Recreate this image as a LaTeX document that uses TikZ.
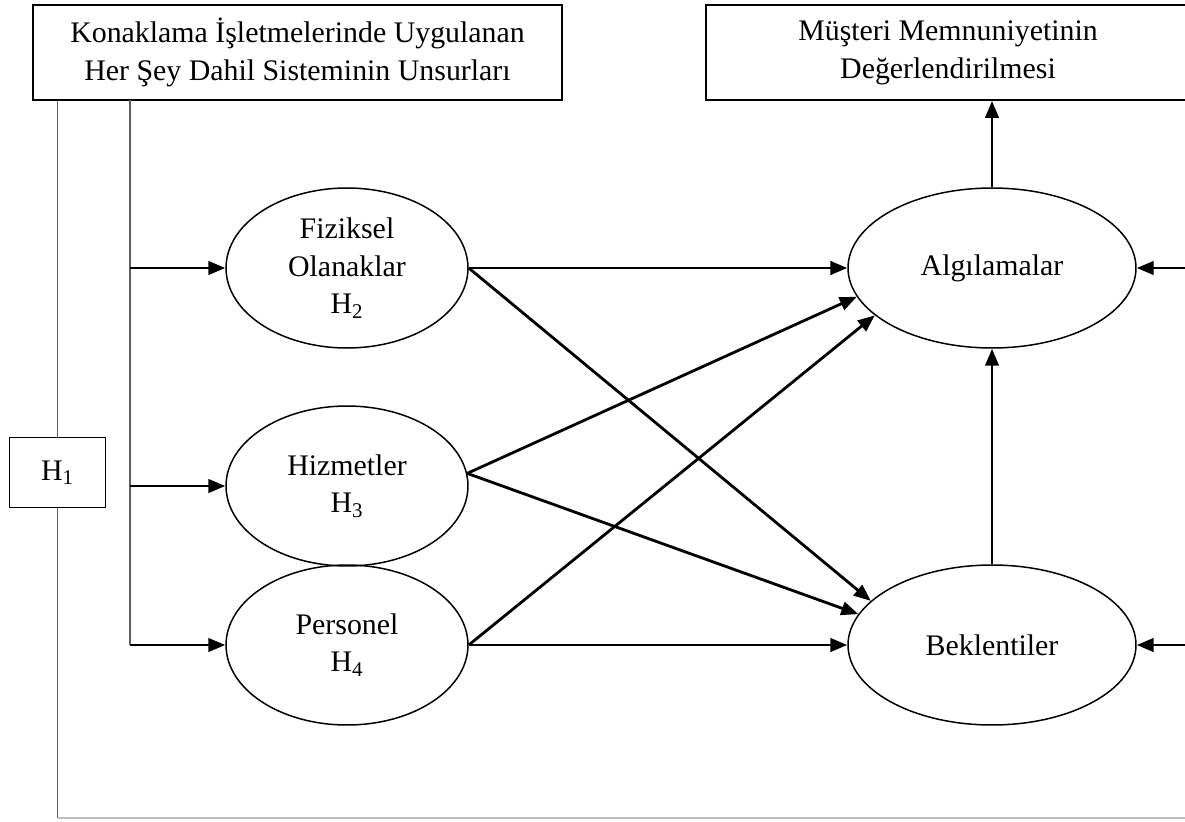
\documentclass[tikz,border=0pt]{standalone}
\usepackage{fontspec}
\setmainfont{Liberation Serif}
\usetikzlibrary{shapes,arrows.meta,positioning,calc}

\begin{document}
\begin{tikzpicture}[x=0.02cm,y=-0.02cm,
    every node/.style={font=\fontsize{17}{21.5}\selectfont},
    kutu/.style={draw,line width=1.1pt,fill=white,align=center,inner sep=0pt},
    elips/.style={draw,ellipse,line width=0.85pt,align=center,inner sep=0pt,
                  minimum height=3.2cm},
    ok/.style={line width=1.6pt,-{Triangle[length=0.34cm,width=0.27cm]}},
    ince/.style={draw=gray!75!black,line width=0.6pt}]
    \useasboundingbox (0,0) rectangle (1185,821);

    % ust kutular
    \node[kutu,minimum width=10.58cm,minimum height=1.9cm] (kon) at (297.5,52.5)
        {Konaklama İşletmelerinde Uygulanan\\Her Şey Dahil Sisteminin Unsurları};
    \node[kutu,minimum width=9.68cm,minimum height=1.9cm] (mem) at (948,52.5)
        {Müşteri Memnuniyetinin\\Değerlendirilmesi};

    % unsurlar
    \node[elips,minimum width=4.84cm] (fiz) at (347,268) {Fiziksel\\Olanaklar\\H\textsubscript{2}};
    \node[elips,minimum width=4.84cm] (hiz) at (347,486) {Hizmetler\\H\textsubscript{3}};
    \node[elips,minimum width=4.84cm] (per) at (347,645) {Personel\\H\textsubscript{4}};

    % memnuniyet
    \node[elips,minimum width=5.76cm] (alg) at (992,268) {Algılamalar};
    \node[elips,minimum width=5.76cm] (bek) at (992,645) {Beklentiler};

    \node[kutu,minimum width=1.92cm,minimum height=1.4cm] (h1) at (57.5,472.5) {H\textsubscript{1}};

    \coordinate (alt) at (57.5,818);
    \coordinate (altsag) at (1190,818);
    \coordinate (dal) at (130,100);
    \coordinate (d1) at (130,268);
    \coordinate (d2) at (130,486);
    \coordinate (d3) at (130,645);
    \coordinate (sag1) at (1190,268);
    \coordinate (sag2) at (1190,645);

    % ince cizgiler
    \draw[ince] (h1.north |- kon.south) -- (h1.north);
    \draw[ince] (h1.south) -- (alt);
    \draw[ince,draw=gray!50] (alt) -- (altsag);
    \draw[ince] (dal) -- (d3);

    \draw[ok] (d1) -- (fiz.west);
    \draw[ok] (d2) -- (hiz.west);
    \draw[ok] (d3) -- (per.west);

    \draw[ok] (fiz.east) -- (alg.west);
    \draw[ok] (fiz.east) -- (bek.160);
    \draw[ok] (hiz.6) -- (alg.192);
    \draw[ok] (hiz.6) -- (bek.167);
    \draw[ok] (per.east) -- (alg.202);
    \draw[ok] (per.east) -- (bek.west);

    \draw[ok] (bek.north) -- (alg.south);
    \draw[ok] (alg.north) -- (alg.north |- mem.south);
    \draw[ok] (sag1) -- (alg.east);
    \draw[ok] (sag2) -- (bek.east);
\end{tikzpicture}
\end{document}
